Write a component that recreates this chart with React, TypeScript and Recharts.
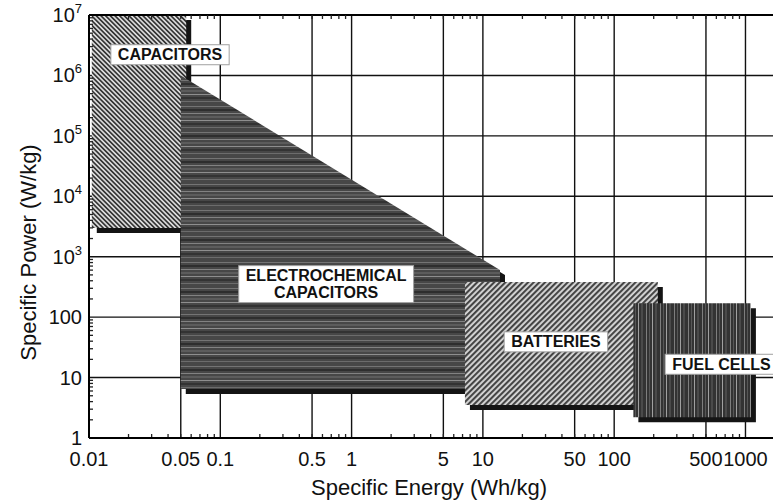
import React from 'react';
import { ComposedChart, Area, Scatter, XAxis, YAxis, CartesianGrid } from 'recharts';

// Ragone plot regions (specific energy in Wh/kg, specific power in W/kg)
const regionNames = ['CAPACITORS', 'ELECTROCHEMICAL CAPACITORS', 'BATTERIES', 'FUEL CELLS'];
const energyLow = [0.0105, 0.05, 7.3, 140];
const energyHigh = [0.055, 13.5, 215, 1100];
const powerLow = [3000, 6.5, 3.5, 2.2];
const powerTopAtLowEnergy = [1e7, 1e6, 380, 170];
const powerTopAtHighEnergy = [1e7, 600, 380, 170];

// where each region's name box sits
const labelEnergy = [0.0414, 0.64, 36, 656];
const labelPower = [2.2e6, 352, 39, 16.6];
const labelLines = [['CAPACITORS'], ['ELECTROCHEMICAL', 'CAPACITORS'], ['BATTERIES'], ['FUEL CELLS']];

const energyTicks = [0.01, 0.05, 0.1, 0.5, 1, 5, 10, 50, 100, 500, 1000];
const energyTickLabels = ['0.01', '0.05', '0.1', '0.5', '1', '5', '10', '50', '100', '500', '1000'];
const powerTicks = [1, 10, 100, 1e3, 1e4, 1e5, 1e6, 1e7];

const minorMultipliers = [2, 3, 4, 5, 6, 7, 8, 9];
const energyDecades = [0.01, 0.1, 1, 10, 100, 1000];
const powerDecades = [1, 10, 100, 1e3, 1e4, 1e5, 1e6];
const energyMinor = energyDecades.flatMap(d => minorMultipliers.map(m => m * d)).filter(v => v <= 2000);
const powerMinor = powerDecades.flatMap(d => minorMultipliers.map(m => m * d));

const FONT = '"Liberation Sans", Arial, Helvetica, sans-serif';
const LABEL_FONT = `bold 16px ${FONT}`;
const fills = ['url(#capHatch)', 'url(#ecStripes)', 'url(#batHatch)', 'url(#fcStripes)'];

const regionData = regionNames.map((_, i) => [
  { e: energyLow[i], p: [powerLow[i], powerTopAtLowEnergy[i]] },
  { e: energyHigh[i], p: [powerLow[i], powerTopAtHighEnergy[i]] },
]);

const labelData = regionNames.map((name, i) => ({
  name,
  e: labelEnergy[i],
  p: labelPower[i],
  lines: labelLines[i],
}));

let ctx: CanvasRenderingContext2D | null = null;
const textWidth = (s: string) => {
  if (!ctx) ctx = document.createElement('canvas').getContext('2d');
  if (!ctx) return s.length * 10.5;
  ctx.font = LABEL_FONT;
  return ctx.measureText(s).width;
};

const RegionLabel = (props: any) => {
  const { cx, cy, payload } = props;
  const lines: string[] = payload.lines;
  const lh = 17;
  const w = Math.max(...lines.map(textWidth)) + 14;
  const h = lines.length * lh + 3;
  const top = cy - h / 2;
  return (
    <g>
      <rect x={cx - w / 2} y={top} width={w} height={h} fill="#fff" stroke="#a0a0a0" strokeWidth={1} />
      {lines.map((l, i) => (
        <text
          key={i}
          x={cx}
          y={top + 1.5 + lh * i + lh / 2}
          dominantBaseline="central"
          textAnchor="middle"
          fontFamily={FONT}
          fontWeight="bold"
          fontSize={16}
          fill="#111"
        >
          {l}
        </text>
      ))}
    </g>
  );
};

const PowerTick = ({ x, y, payload }: any) => {
  const v = payload.value;
  const exp = Math.round(Math.log10(v));
  return (
    <text x={x} y={y} dy={7} textAnchor="end" fontFamily={FONT} fontSize={20} fill="#111">
      {exp <= 2 ? (
        String(v)
      ) : (
        <>
          <tspan>10</tspan>
          <tspan dy={-9} fontSize={13}>{exp}</tspan>
        </>
      )}
    </text>
  );
};

const EnergyTick = ({ x, y, payload }: any) => {
  const i = energyTicks.indexOf(payload.value);
  return (
    <text x={x} y={y} dy="0.71em" textAnchor="middle" fontFamily={FONT} fontSize={20} fill="#111">
      {i >= 0 ? energyTickLabels[i] : payload.value}
    </text>
  );
};

const NoLabel = () => <g />;

export default function App() {
  return (
    <div style={{ position: 'absolute', left: 0, top: 0, width: 773, height: 503, overflow: 'hidden', background: '#fff' }}>
      <style>{`.shadowed .recharts-area-area { filter: drop-shadow(5px 5px 0 #141414); }`}</style>
      <ComposedChart width={785} height={503} margin={{ top: 15, right: 0, left: 0, bottom: 0 }}>
        <defs>
          <pattern id="capHatch" patternUnits="userSpaceOnUse" width={3.3} height={3.3} patternTransform="rotate(-45)">
            <rect width={3.3} height={3.3} fill="#dedede" />
            <rect width={1.7} height={3.3} fill="#353535" />
          </pattern>
          <pattern id="batHatch" patternUnits="userSpaceOnUse" width={4} height={4} patternTransform="rotate(45)">
            <rect width={4} height={4} fill="#d8d8d8" />
            <rect width={2.1} height={4} fill="#454545" />
          </pattern>
          <pattern id="ecStripes" patternUnits="userSpaceOnUse" width={10} height={26}>
            <rect width={10} height={26} fill="#474747" />
            <rect y={2} width={10} height={1} fill="#747474" />
            <rect y={5} width={10} height={2} fill="#2e2e2e" />
            <rect y={9} width={10} height={1} fill="#828282" />
            <rect y={12} width={10} height={2} fill="#5c5c5c" />
            <rect y={16} width={10} height={1} fill="#8e8e8e" />
            <rect y={19} width={10} height={2} fill="#333" />
            <rect y={23} width={10} height={1} fill="#6c6c6c" />
          </pattern>
          <pattern id="fcStripes" patternUnits="userSpaceOnUse" width={14} height={10}>
            <rect width={14} height={10} fill="#333" />
            <rect x={2} width={1} height={10} fill="#7e7e7e" />
            <rect x={5} width={1} height={10} fill="#575757" />
            <rect x={8} width={1} height={10} fill="#a0a0a0" />
            <rect x={11} width={2} height={10} fill="#4a4a4a" />
          </pattern>
        </defs>

        <CartesianGrid stroke="#111" strokeWidth={1.4} />

        <XAxis
          xAxisId="minorBottom"
          dataKey="e"
          type="number"
          scale="log"
          domain={[0.01, 2000]}
          allowDataOverflow
          ticks={energyMinor}
          interval={0}
          orientation="bottom"
          mirror
          height={1}
          tick={<NoLabel />}
          axisLine={false}
          tickLine={{ stroke: '#222', strokeWidth: 1.3 }}
          tickSize={4}
        />
        <XAxis
          xAxisId="minorTop"
          dataKey="e"
          type="number"
          scale="log"
          domain={[0.01, 2000]}
          allowDataOverflow
          ticks={energyMinor}
          interval={0}
          orientation="top"
          mirror
          height={1}
          tick={<NoLabel />}
          axisLine={{ stroke: '#000', strokeWidth: 2 }}
          tickLine={{ stroke: '#222', strokeWidth: 1.3 }}
          tickSize={4}
        />
        <YAxis
          yAxisId="minorLeft"
          type="number"
          scale="log"
          domain={[1, 1e7]}
          allowDataOverflow
          ticks={powerMinor}
          interval={0}
          orientation="left"
          mirror
          width={1}
          tick={<NoLabel />}
          axisLine={false}
          tickLine={{ stroke: '#222', strokeWidth: 1.3 }}
          tickSize={4}
        />

        <XAxis
          dataKey="e"
          type="number"
          scale="log"
          domain={[0.01, 2000]}
          allowDataOverflow
          ticks={energyTicks}
          interval={0}
          height={65}
          tick={<EnergyTick />}
          tickLine={false}
          tickSize={6}
          tickMargin={8}
          axisLine={{ stroke: '#000', strokeWidth: 2 }}
          label={({ viewBox }: any) => (
            <text
              x={viewBox.x + 340}
              y={viewBox.y + 57}
              textAnchor="middle"
              fontFamily={FONT}
              fontSize={22}
              fill="#111"
            >
              Specific Energy (Wh/kg)
            </text>
          )}
        />
        <YAxis
          type="number"
          scale="log"
          domain={[1, 1e7]}
          allowDataOverflow
          ticks={powerTicks}
          interval={0}
          width={89}
          tick={<PowerTick />}
          tickLine={false}
          tickSize={5}
          tickMargin={2}
          axisLine={{ stroke: '#000', strokeWidth: 2 }}
          label={({ viewBox }: any) => {
            const cx = viewBox.x + 28;
            const cy = viewBox.y + viewBox.height / 2 + 26;
            return (
              <text
                x={cx}
                y={cy}
                transform={`rotate(-90, ${cx}, ${cy})`}
                textAnchor="middle"
                dominantBaseline="central"
                fontFamily={FONT}
                fontSize={22}
                fill="#111"
              >
                Specific Power (W/kg)
              </text>
            );
          }}
        />

        {regionData.map((d, i) => (
          <Area
            key={regionNames[i]}
            name={regionNames[i]}
            data={d}
            dataKey="p"
            type="linear"
            stroke="none"
            fill={fills[i]}
            fillOpacity={1}
            className="shadowed"
            dot={false}
            activeDot={false}
            isAnimationActive={false}
          />
        ))}

        <Scatter data={labelData} dataKey="p" shape={RegionLabel} isAnimationActive={false} />
      </ComposedChart>
    </div>
  );
}
